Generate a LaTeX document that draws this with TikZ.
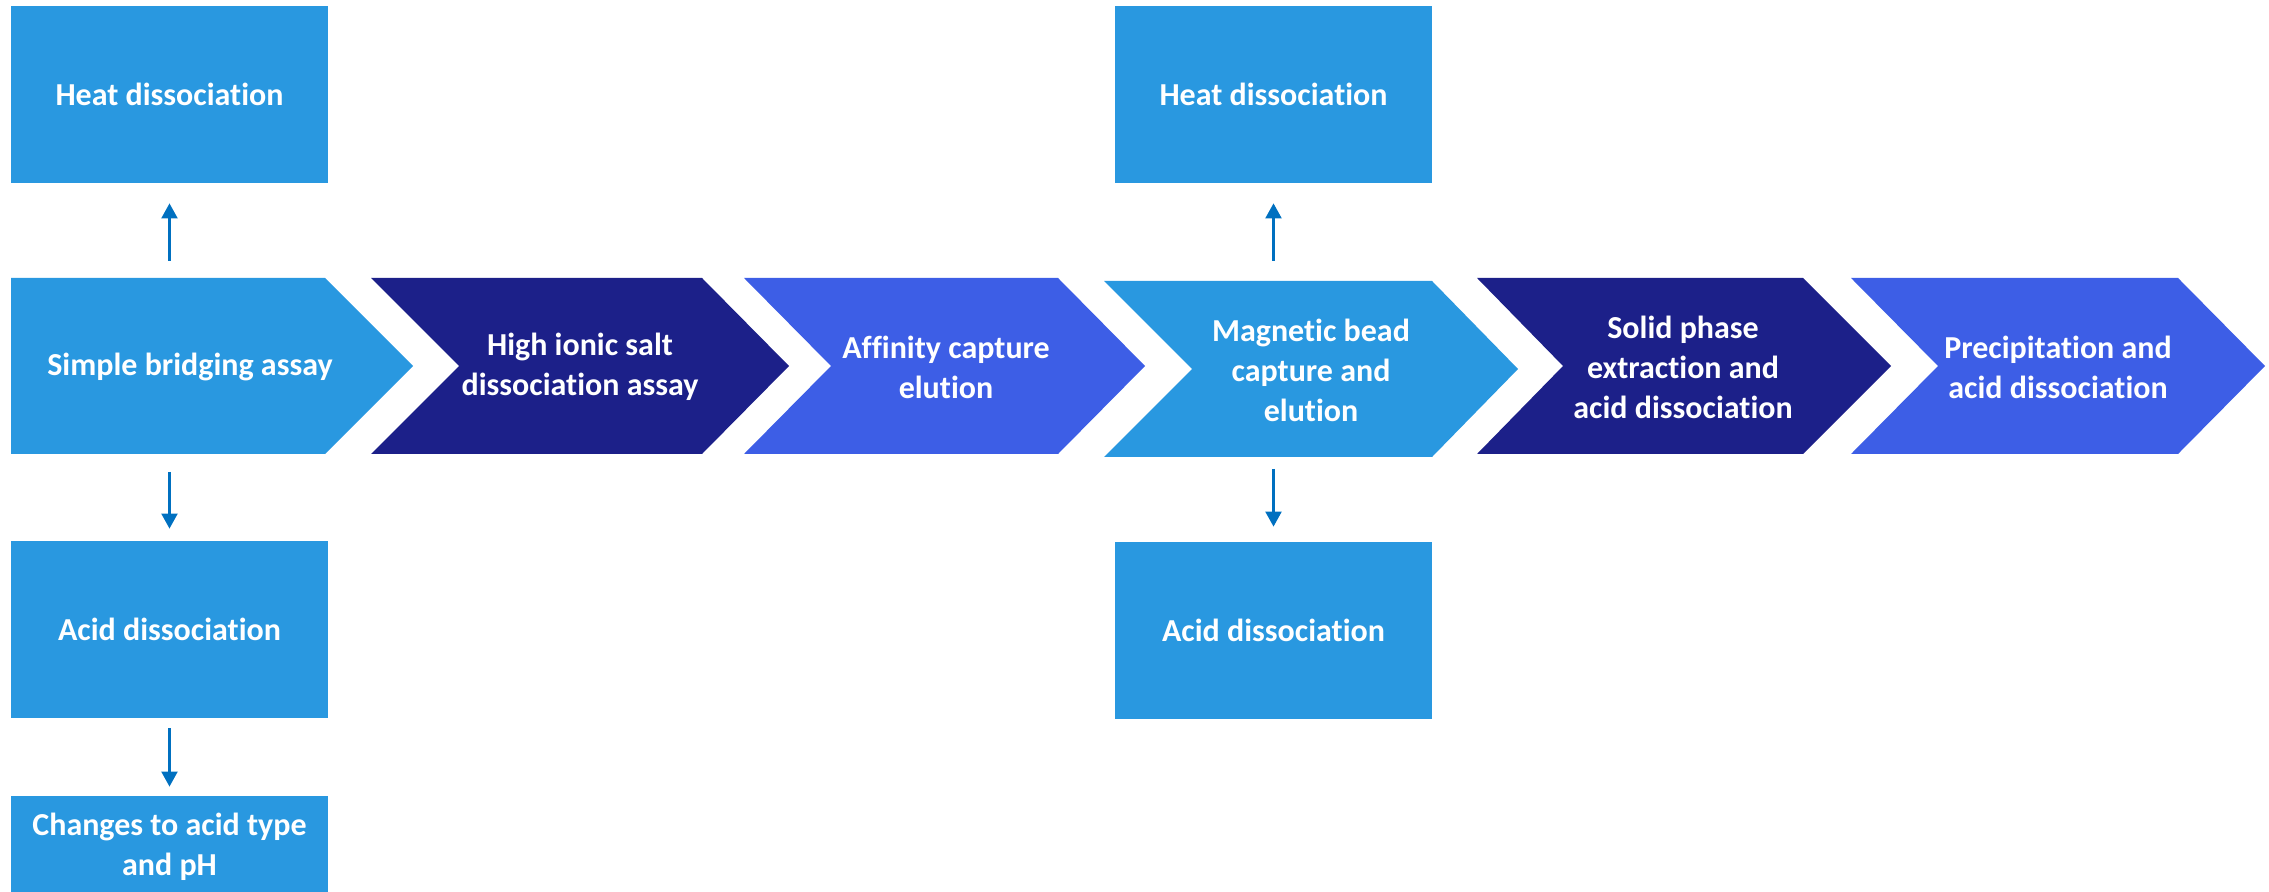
\documentclass[tikz,border=0pt]{standalone}
\usepackage{fontspec}
\setmainfont{Carlito}[Ligatures=NoCommon]
\usepackage{tikz}
\usetikzlibrary{arrows.meta}
\definecolor{skyblue}{RGB}{41,152,224}
\definecolor{navyblue}{RGB}{28,32,137}
\definecolor{royalblue}{RGB}{61,94,230}
\definecolor{arrowblue}{HTML}{0070C0}
\tikzset{
  lbl/.style={text=white, font=\fontsize{16}{20}\selectfont\bfseries, align=center, inner sep=0pt},
  box/.style={lbl, fill=skyblue, minimum width=158.5pt, minimum height=88.5pt},
  flow/.style={draw=arrowblue, line width=1.1pt, -{Triangle[width=8pt, length=7.5pt]}}
}
\begin{document}
\begin{tikzpicture}[x=0.5pt, y=-0.5pt]
\useasboundingbox (0,0) rectangle (2269,892);
\fill[skyblue] (11,278) -- (325,278) -- (413,366) -- (325,454) -- (11,454) -- cycle;
\fill[navyblue] (371,278) -- (702,278) -- (789,366) -- (702,454) -- (371,454) -- (459,366) -- cycle;
\fill[royalblue] (744,278) -- (1058,278) -- (1145,366) -- (1058,454) -- (744,454) -- (831,366) -- cycle;
\fill[skyblue] (1104,281) -- (1432,281) -- (1518,369) -- (1432,457) -- (1104,457) -- (1192,369) -- cycle;
\fill[navyblue] (1477,278) -- (1803,278) -- (1891,366) -- (1803,454) -- (1477,454) -- (1563,366) -- cycle;
\fill[royalblue] (1851,278) -- (2178,278) -- (2265,366) -- (2178,454) -- (1851,454) -- (1938,366) -- cycle;
\node[lbl] (bridge) at (190,367) {Simple bridging assay};
\node[lbl] (salt) at (580,367) {High ionic salt\\dissociation assay};
\node[lbl] (affinity) at (946,367) {Affinity capture\\elution};
\node[lbl] (magbead) at (1311,370) {Magnetic bead\\capture and\\elution};
\node[lbl] (solid) at (1683,367) {Solid phase\\extraction and\\acid dissociation};
\node[lbl] (precip) at (2058,367) {Precipitation and\\acid dissociation};
\node[box] (heat1) at (169.5,94.5) {Heat dissociation};
\node[box] (acid1) at (169.5,629.5) {Acid dissociation};
\node[box, minimum height=51pt] (acidph) at (169.5,847) {Changes to acid type\\and pH};
\node[box] (heat2) at (1273.5,94.5) {Heat dissociation};
\node[box] (acid2) at (1273.5,630.5) {Acid dissociation};
\draw[flow, shorten <=8.5pt, shorten >=10pt] (heat1.south |- 0,278) -- (heat1.south);
\draw[flow, shorten <=9pt, shorten >=6pt] (acid1.north |- 0,454) -- (acid1.north);
\draw[flow, shorten <=5pt, shorten >=4.5pt] (acid1.south) -- (acidph.north);
\draw[flow, shorten <=10pt, shorten >=10pt] (heat2.south |- 0,281) -- (heat2.south);
\draw[flow, shorten <=6pt, shorten >=7.5pt] (acid2.north |- 0,457) -- (acid2.north);
\end{tikzpicture}
\end{document}
